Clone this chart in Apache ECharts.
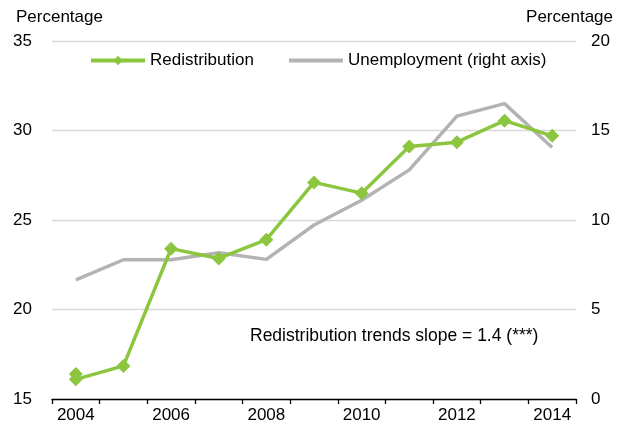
<!DOCTYPE html>
<html>
<head>
<meta charset="utf-8">
<script src="https://cdn.jsdelivr.net/npm/echarts@6/dist/echarts.min.js"></script>
<style>
html,body{margin:0;padding:0;background:#fff;}
#chart{width:622px;height:430px;}
</style>
</head>
<body>
<div id="chart"></div>
<script>
var years = ['2004','2005','2006','2007','2008','2009','2010','2011','2012','2013','2014'];
var redistribution = [16.1, 16.85, 23.4, 22.85, 23.9, 27.1, 26.5, 29.1, 29.35, 30.55, 29.7];
var redistributionExtra = [['2004', 16.4]];
var unemployment = [6.65, 7.78, 7.78, 8.17, 7.8, 9.72, 11.1, 12.8, 15.8, 16.5, 14.05];
var leftTicks = [15, 20, 25, 30, 35];
var rightTicks = [0, 5, 10, 15, 20];
var annotation = 'Redistribution trends slope = 1.4 (***)';

var FONT = '"Liberation Sans", Arial, sans-serif';
var GREEN = '#8cc63f';
var GRAY = '#b3b3b3';

var chart = echarts.init(document.getElementById('chart'));
chart.setOption({
  animation: false,
  backgroundColor: '#fff',
  textStyle: {fontFamily: FONT, color: '#000'},
  grid: {left: 52, right: 46, top: 41, bottom: 31},
  legend: {
    data: [
      {name: 'Redistribution'},
      {name: 'Unemployment (right axis)'}
    ],
    left: 89, top: 52, padding: 0,
    itemWidth: 54, itemHeight: 12, itemGap: 33,
    lineStyle: {width: 4},
    textStyle: {fontFamily: FONT, fontSize: 17, color: '#000'}
  },
  xAxis: {
    type: 'category',
    data: years,
    boundaryGap: true,
    axisLine: {show: true, lineStyle: {color: '#000', width: 1.3}},
    axisTick: {show: true, interval: 0, length: 5, inside: false, lineStyle: {color: '#000', width: 1.3}},
    axisLabel: {interval: 1, fontSize: 17, color: '#000', fontFamily: FONT, margin: 8},
    splitLine: {show: false}
  },
  yAxis: [
    {
      type: 'value', min: leftTicks[0], max: leftTicks[leftTicks.length-1], interval: 5,
      position: 'left',
      axisLine: {show: false}, axisTick: {show: false},
      axisLabel: {fontSize: 17, color: '#000', fontFamily: FONT, margin: 20},
      splitLine: {show: true, lineStyle: {color: '#d9d9d9', width: 1.3}}
    },
    {
      type: 'value', min: rightTicks[0], max: rightTicks[rightTicks.length-1], interval: 5,
      position: 'right',
      axisLine: {show: false}, axisTick: {show: false},
      axisLabel: {fontSize: 17, color: '#000', fontFamily: FONT, margin: 15},
      splitLine: {show: false}
    }
  ],
  graphic: [
    {type: 'text', left: 16, top: 9, style: {text: 'Percentage', font: '17px ' + FONT, fill: '#000'}},
    {type: 'text', right: 9, top: 9, style: {text: 'Percentage', font: '17px ' + FONT, fill: '#000'}},
    {type: 'text', left: 250, top: 327, style: {text: annotation, font: '17.5px ' + FONT, fill: '#000'}}
  ],
  series: [
    {
      name: 'Unemployment (right axis)',
      type: 'line',
      yAxisIndex: 1,
      data: unemployment,
      symbol: 'circle',
      showSymbol: false,
      lineStyle: {color: GRAY, width: 3.5},
      itemStyle: {color: 'rgba(0,0,0,0)'},
      z: 2
    },
    {
      name: 'Redistribution',
      type: 'line',
      yAxisIndex: 0,
      data: redistribution,
      symbol: 'diamond',
      symbolSize: 14,
      lineStyle: {color: GREEN, width: 3.5},
      itemStyle: {color: GREEN},
      z: 3
    },
    {
      name: 'Redistribution extra',
      type: 'scatter',
      yAxisIndex: 0,
      data: redistributionExtra,
      symbol: 'diamond',
      symbolSize: 14,
      itemStyle: {color: GREEN, opacity: 1},
      z: 3
    }
  ]
});
</script>
</body>
</html>
